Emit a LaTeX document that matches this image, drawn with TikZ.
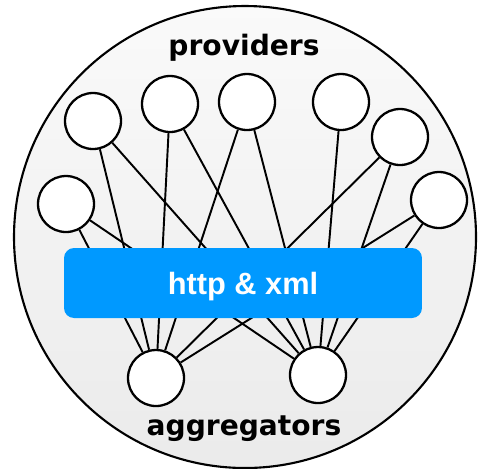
\documentclass[tikz,border=0pt]{standalone}
\usepackage{fontspec}
\newfontfamily\labfont{DejaVu Sans}
\newfontfamily\boxfont{Liberation Sans}
\usetikzlibrary{backgrounds}
\definecolor{wireblue}{RGB}{0,153,255}
\tikzset{
  peer/.style={circle,draw,line width=1.3pt,fill=white,minimum size=1.12cm,inner sep=0pt},
  link/.style={line width=1.1pt},
  title/.style={anchor=base,inner sep=0pt,font=\labfont\fontsize{16}{16}\selectfont\bfseries},
}

\begin{document}
\begin{tikzpicture}[x=0.02cm,y=0.02cm]
    \useasboundingbox (0,0) rectangle (482,-468);
    % providers
    \node[peer] (p1) at (66,-204) {};
    \node[peer] (p2) at (93,-121) {};
    \node[peer] (p3) at (170,-104) {};
    \node[peer] (p4) at (247,-102) {};
    \node[peer] (p5) at (341,-102) {};
    \node[peer] (p6) at (400,-137) {};
    \node[peer] (p7) at (439,-200) {};
    % aggregators
    \node[peer] (a1) at (156,-378) {};
    \node[peer] (a2) at (318,-375) {};
    \node[fill=wireblue,rounded corners=0.2cm,minimum width=7.16cm,minimum height=1.4cm] (wire) at (243,-283) {};
    \node[anchor=base,inner sep=0pt,text=white,font=\boxfont\fontsize{17.5}{17.5}\selectfont\bfseries] (wiretext) at (243,-294) {http \& xml};
    \node[title] (prov) at (244,-55) {providers};
    \node[title] (aggr) at (244,-435) {aggregators};
    \begin{scope}[on background layer]
      \draw[line width=1.2pt,top color=white!98!black,bottom color=white!92!black] (245,-237) circle [radius=231];
      \foreach \p in {1,2,3,4,6,7}
        \draw[link] (p\p) -- (a1);
      \foreach \p in {1,...,7}
        \draw[link] (p\p) -- (a2);
    \end{scope}
  \end{tikzpicture}
\end{document}
